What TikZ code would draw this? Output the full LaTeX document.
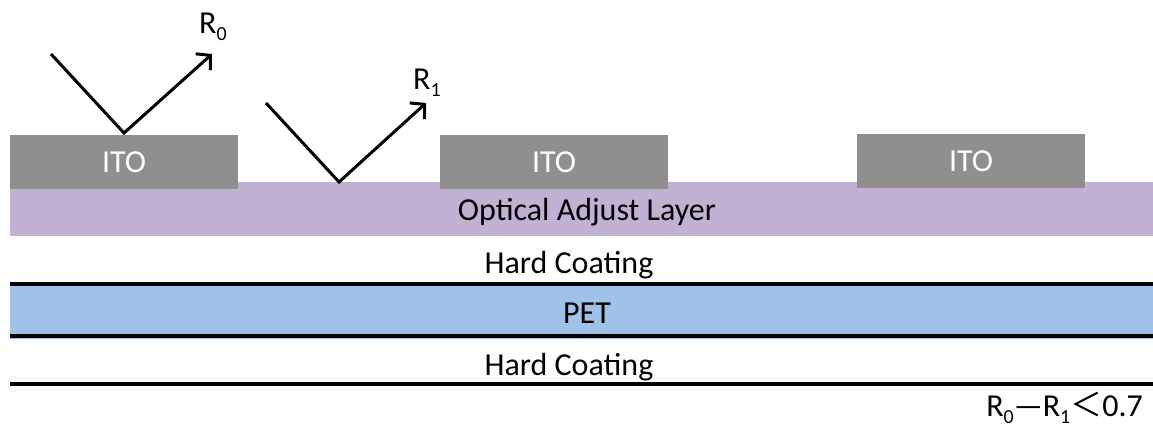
\documentclass[tikz,border=0pt]{standalone}
\usepackage{fontspec}
\setmainfont{Carlito}
\newfontfamily\cjkfont{Noto Sans CJK SC}
\usetikzlibrary{arrows.meta}
\definecolor{itogray}{RGB}{143,143,143}
\definecolor{oalpurple}{RGB}{193,178,211}
\definecolor{petblue}{RGB}{159,194,233}
\newcommand{\Rsub}[1]{R\raisebox{-7pt}{\fontsize{20}{20}\selectfont #1}}
\begin{document}
\begin{tikzpicture}[x=1pt,y=-1pt,
  every node/.style={inner sep=0pt, font=\fontsize{32}{38}\selectfont},
  lbl/.style={anchor=base},
  itobox/.style={fill=itogray, text=white, minimum width=228pt, minimum height=54pt, text depth=0pt},
  ray/.style={line width=3pt},
  raytip/.style={-{Straight Barb[length=10pt,width=22pt]}},
  blackline/.style={line width=4pt, black}]
\useasboundingbox (0,0) rectangle (1153,430);

% layers
\fill[oalpurple] (10,182) rectangle (1153,236);
\fill[petblue] (10,283) rectangle (1153,339);
\draw[blackline] (10,283.5) -- (1153,283.5);
\draw[blackline] (10,335.5) -- (1153,335.5);
\draw[blackline] (10,384) -- (1153,384);

% ITO strips
\node[itobox] (ito1) at (124,162) {ITO};
\node[itobox] (ito2) at (554,162) {ITO};
\node[itobox] (ito3) at (971,161) {ITO};

% layer labels
\node[lbl] (oal) at (587,221) {Optical Adjust Layer};
\node[lbl] (hc1) at (569,273) {Hard Coating};
\node[lbl] (pet) at (587,323) {PET};
\node[lbl] (hc2) at (569,375) {Hard Coating};

% rays
\coordinate (a0) at (51,54);
\coordinate (v0) at (124,133);
\coordinate (t0) at (212,54);
\coordinate (a1) at (266,103);
\coordinate (v1) at (339,182);
\coordinate (t1) at (426,103);
\draw[ray, raytip] (a0) -- (v0) -- (t0);
\draw[ray, raytip] (a1) -- (v1) -- (t1);

\node[lbl, anchor=base west] (r0) at (199,34) {\Rsub{0}};
\node[lbl, anchor=base west] (r1) at (413,90) {\Rsub{1}};

\node[anchor=base east] (formula) at (1143,416) {\Rsub{0}—\Rsub{1}{\cjkfont ＜}0.7};
\end{tikzpicture}
\end{document}
